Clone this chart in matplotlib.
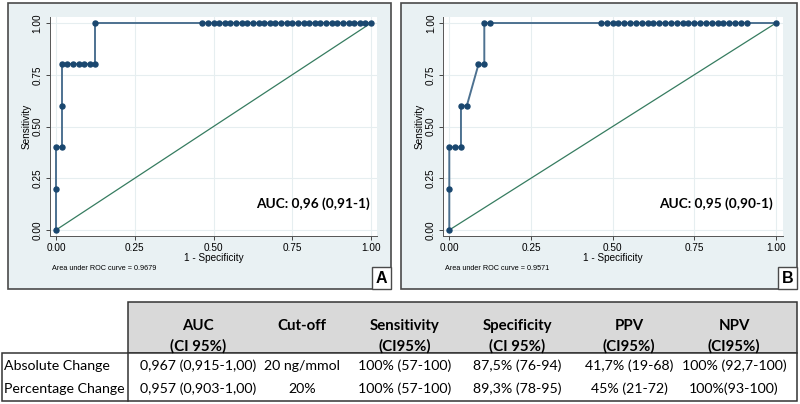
import matplotlib
matplotlib.use("Agg")
import matplotlib.pyplot as plt
from matplotlib.patches import Rectangle

# ── ROC data (1 - specificity, sensitivity), step = 1/56 ─────────────────────
step = 1 / 56
roc_a_x = [0, 0, 0, 1, 1, 1, 2, 3, 4, 5, 6, 7, 7] + list(range(26, 57))
roc_a_y = [0, 0.2, 0.4, 0.4, 0.6, 0.8, 0.8, 0.8, 0.8, 0.8, 0.8, 0.8, 1.0] + [1.0] * 31
roc_b_x = [0, 0, 0, 1, 2, 2, 3, 5, 6, 6, 7] + list(range(26, 52)) + [56]
roc_b_y = [0, 0.2, 0.4, 0.4, 0.4, 0.6, 0.6, 0.8, 0.8, 1.0, 1.0] + [1.0] * 27
roc_a_x = [v * step for v in roc_a_x]
roc_b_x = [v * step for v in roc_b_x]

area_a = "0.9679"
area_b = "0.9571"
auc_a = "AUC: 0,96 (0,91-1)"
auc_b = "AUC: 0,95 (0,90-1)"
ticks = [0, 0.25, 0.5, 0.75, 1.0]
tick_labels = ["0.00", "0.25", "0.50", "0.75", "1.00"]

# ── Table data ───────────────────────────────────────────────────────────────
headers = [("AUC", "(CI 95%)"), ("Cut-off", ""), ("Sensitivity", "(CI95%)"),
           ("Specificity", "(CI 95%)"), ("PPV", "(CI95%)"), ("NPV", "(CI95%)")]
row_labels = ["Absolute Change", "Percentage Change"]
rows = [
    ["0,967 (0,915-1,00)", "20 ng/mmol", "100% (57-100)", "87,5% (76-94)",
     "41,7% (19-68)", "100% (92,7-100)"],
    ["0,957 (0,903-1,00)", "20%", "100% (57-100)", "89,3% (78-95)",
     "45% (21-72)", "100%(93-100)"],
]
col_centers = [198, 302, 405, 517, 629, 734]

W, H = 800, 404
PANEL_BG = "#e9f1f3"
LINE_C = "#4d7190"
MARK_C = "#1a476f"
DIAG_C = "#367c60"
AX_FONT = "Liberation Sans"
TAB_FONT = "Lato"
HEAD_FS = 10.8
ROW_FS = 10.2

fig = plt.figure(figsize=(W / 100, H / 100), dpi=100)


def fx(px):
    return px / W


def fy(py):
    return 1 - py / H


def frect(x0, y0, x1, y1, **kw):
    r = Rectangle((fx(x0), fy(y1)), fx(x1 - x0), (y1 - y0) / H,
                  transform=fig.transFigure, **kw)
    fig.add_artist(r)
    return r


def panel(x0, x1, x_zero, x_one, xs, ys, area, auc, letter):
    # panel background + frame
    frect(x0, 3, x1, 289, facecolor=PANEL_BG, edgecolor="#4a4a4a", lw=1.2, zorder=0)
    scale = x_one - x_zero
    left = x_zero - 0.02 * scale
    width = 1.04 * scale
    top, bottom = 16.8, 236.2
    ax = fig.add_axes([fx(left), fy(bottom), fx(width), (bottom - top) / H])
    ax.set_facecolor("white")
    ax.set_xlim(-0.02, 1.02)
    ax.set_ylim(-0.03, 1.03)
    ax.plot([0, 1], [0, 1], color=DIAG_C, lw=0.9, zorder=2)
    ax.plot(xs, ys, color=LINE_C, lw=1.4, zorder=3)
    ax.plot(xs, ys, ls="none", marker="o", ms=3.6, color=MARK_C, zorder=4)
    ax.set_xticks(ticks)
    ax.set_xticklabels(tick_labels, fontsize=7.2, family=AX_FONT)
    ax.set_yticks(ticks)
    ax.set_yticklabels(tick_labels, fontsize=7.2, family=AX_FONT, rotation=90,
                       va="center")
    ax.tick_params(length=3, width=0.7, color="#444444", pad=2)
    ax.grid(True, color="#e6eef0", lw=0.8)
    ax.set_axisbelow(True)
    for s in ["top", "right"]:
        ax.spines[s].set_visible(False)
    for s in ["left", "bottom"]:
        ax.spines[s].set_color("#555555")
        ax.spines[s].set_linewidth(0.7)
    ax.set_xlabel("1 - Specificity", fontsize=7.2, family=AX_FONT, labelpad=0)
    ax.set_ylabel("Sensitivity", fontsize=7.2, family=AX_FONT, labelpad=1)
    ax.text(0.815, 0.125, auc, fontsize=9.8, family=TAB_FONT, weight="bold",
            ha="center", va="center")
    fig.text(fx(left + 2), fy(269), f"Area under ROC curve = {area}",
             fontsize=5.2, family=AX_FONT, va="center")
    frect(x1 - 19, 267, x1, 289, facecolor="white", edgecolor="#4a4a4a", lw=1, zorder=5)
    fig.text(fx(x1 - 9.5), fy(278.5), letter, fontsize=11.5, family=AX_FONT,
             weight="bold", ha="center", va="center", zorder=6)
    return ax


panel(8, 391, 56, 371, roc_a_x, roc_a_y, area_a, auc_a, "A")
panel(401, 797, 449.3, 776, roc_b_x, roc_b_y, area_b, auc_b, "B")

# ── Table ────────────────────────────────────────────────────────────────────
frect(128, 302, 797, 353, facecolor="#d9d9d9", edgecolor="#333333", lw=1.1, zorder=1)
frect(2, 353, 797, 401, facecolor="white", edgecolor="#333333", lw=1.1, zorder=1)
fig.add_artist(plt.Line2D([fx(128), fx(128)], [fy(353), fy(401)],
                          transform=fig.transFigure, color="#333333", lw=1.1))

for cx, (h1, h2) in zip(col_centers, headers):
    fig.text(fx(cx), fy(326), h1, fontsize=HEAD_FS, family=TAB_FONT, weight="bold",
             ha="center", va="center")
    if h2:
        fig.text(fx(cx), fy(346), h2, fontsize=HEAD_FS, family=TAB_FONT,
                 weight="bold", ha="center", va="center")

row_y = [366, 389]
for ry, label, vals in zip(row_y, row_labels, rows):
    fig.text(fx(4), fy(ry), label, fontsize=ROW_FS, family=TAB_FONT, va="center")
    for cx, v in zip(col_centers, vals):
        fig.text(fx(cx), fy(ry), v, fontsize=ROW_FS, family=TAB_FONT,
                 ha="center", va="center")

fig.savefig("out.png", dpi=100)
